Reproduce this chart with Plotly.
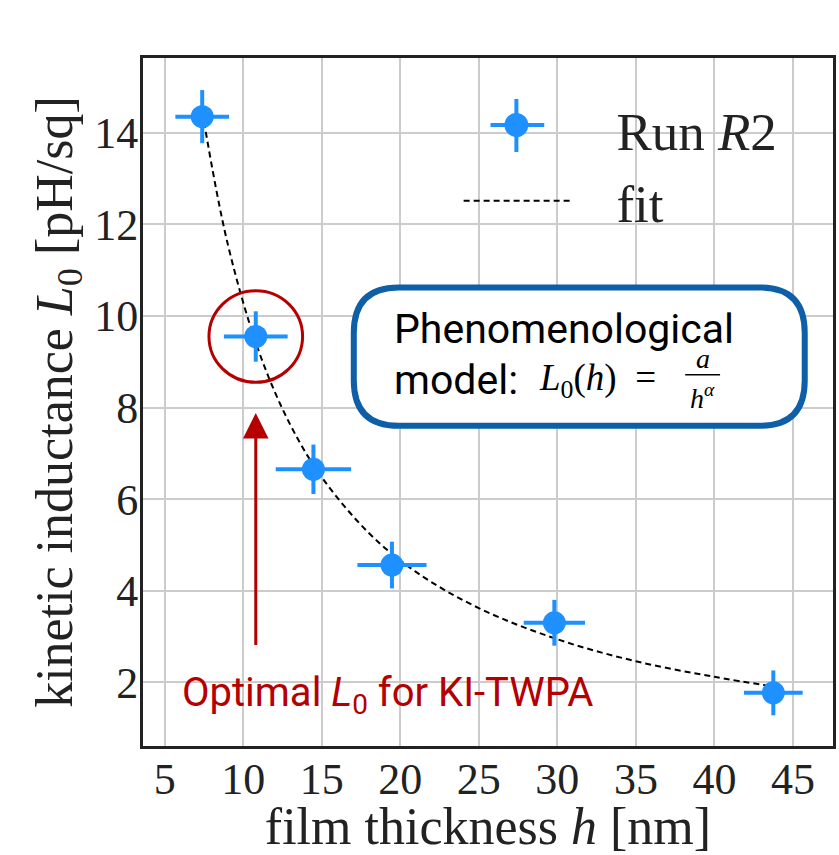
import plotly.graph_objects as go

# ---- data ----
h_nm = [7.39, 10.80, 14.47, 19.47, 29.81, 43.75]
L0 = [14.35, 9.55, 6.65, 4.56, 3.30, 1.77]
h_err = [1.71, 2.03, 2.40, 2.20, 1.95, 1.87]
L0_err = [0.58, 0.55, 0.54, 0.51, 0.50, 0.49]

fit_h = [7.4, 9.0, 11.0, 13.0, 15.0, 18.0, 21.0, 25.0, 30.0, 35.0, 40.0, 43.75]
fit_L0 = [14.45, 11.59, 9.22, 7.62, 6.48, 5.26, 4.41, 3.62, 2.94, 2.46, 2.12, 1.91]

x_ticks = [5, 10, 15, 20, 25, 30, 35, 40, 45]
y_ticks = [2, 4, 6, 8, 10, 12, 14]

BLUE = "#1e90ff"
RED = "#b40000"
BOX = "#0d5fa8"
SERIF = "Liberation Serif"
SANS = "Roboto"
NB = "\u00a0"

W, H = 839, 855
ML, MR, MT, MB = 143, 3, 58, 109


def px2paper(px, py):
    return (px - ML) / (W - ML - MR), (H - MB - py) / (H - MT - MB)


fig = go.Figure()

fig.add_trace(go.Scatter(
    x=fit_h, y=fit_L0, mode="lines", name=NB * 3 + "fit", legendrank=2,
    line=dict(color="black", width=2, dash="6px,4px", shape="spline"),
))
fig.add_trace(go.Scatter(
    x=h_nm, y=L0, mode="markers", name=NB * 3 + "Run <i>R</i>2", legendrank=1,
    marker=dict(color=BLUE, size=23),
    error_x=dict(type="data", array=h_err, color=BLUE, thickness=4, width=0),
    error_y=dict(type="data", array=L0_err, color=BLUE, thickness=4, width=0),
))

shapes = []
# rounded box
x0, x1, y0, y1 = 17.04, 45.75, 7.60, 10.62
rx, ry = 2.85, 0.99
path = (f"M{x0+rx},{y1} L{x1-rx},{y1} Q{x1},{y1} {x1},{y1-ry} "
        f"L{x1},{y0+ry} Q{x1},{y0} {x1-rx},{y0} L{x0+rx},{y0} "
        f"Q{x0},{y0} {x0},{y0+ry} L{x0},{y1-ry} Q{x0},{y1} {x0+rx},{y1} Z")
shapes.append(dict(type="path", path=path, xref="x", yref="y",
                   line=dict(color=BOX, width=6), fillcolor="white", layer="above"))
# red circle around optimal point
crx, cry = 2.98, 1.0
shapes.append(dict(type="circle", xref="x", yref="y",
                   x0=h_nm[1] - crx, x1=h_nm[1] + crx, y0=L0[1] - cry, y1=L0[1] + cry,
                   line=dict(color=RED, width=3)))
# fraction bar
shapes.append(dict(type="line", xref="x", yref="y", x0=38.14, x1=40.36, y0=8.714, y1=8.714,
                   line=dict(color="black", width=1.5), layer="above"))
# legend error cross + enlarged dot
a0, b0 = px2paper(492, 125)
a1, b1 = px2paper(546, 125)
shapes.append(dict(type="line", xref="paper", yref="paper", x0=a0, x1=a1, y0=b0, y1=b1,
                   line=dict(color=BLUE, width=4), layer="above"))
a0, b0 = px2paper(518, 99)
a1, b1 = px2paper(518, 152)
shapes.append(dict(type="line", xref="paper", yref="paper", x0=a0, x1=a1, y0=b0, y1=b1,
                   line=dict(color=BLUE, width=4), layer="above"))
a0, b0 = px2paper(506, 137)
a1, b1 = px2paper(530, 113)
shapes.append(dict(type="circle", xref="paper", yref="paper", x0=a0, x1=a1, y0=b0, y1=b1,
                   line=dict(width=0), fillcolor=BLUE, layer="above"))

annotations = [
    dict(x=19.45, y=9.72, xref="x", yref="y", text="Phenomenological", showarrow=False,
         xanchor="left", yanchor="middle", font=dict(family=SANS, size=41, color="black")),
    dict(x=19.45, y=8.60, xref="x", yref="y", text="model:", showarrow=False,
         xanchor="left", yanchor="middle", font=dict(family=SANS, size=41, color="black")),
    dict(x=28.7, y=8.60, xref="x", yref="y",
         text="<i>L</i><sub>0</sub>(<i>h</i>)" + NB * 2 + "=",
         showarrow=False, xanchor="left", yanchor="middle",
         font=dict(family=SERIF, size=37, color="black")),
    dict(x=39.3, y=9.08, xref="x", yref="y", text="<i>a</i>", showarrow=False,
         xanchor="center", yanchor="middle", font=dict(family=SERIF, size=28, color="black")),
    dict(x=39.25, y=8.25, xref="x", yref="y", text="<i>h</i><sup><i>α</i></sup>",
         showarrow=False, xanchor="center", yanchor="middle",
         font=dict(family=SERIF, size=28, color="black")),
    dict(x=h_nm[1], y=7.88, ax=h_nm[1], ay=2.78, xref="x", yref="y", axref="x", ayref="y",
         text="", showarrow=True, arrowhead=2, arrowsize=1.7, arrowwidth=3, arrowcolor=RED),
    dict(x=19.2, y=1.73, xref="x", yref="y", text="Optimal <i>L</i><sub>0</sub> for KI-TWPA",
         showarrow=False, xanchor="center", yanchor="middle",
         font=dict(family=SANS, size=40, color=RED)),
]

lx, ly = px2paper(460, 88)
fig.update_layout(
    width=W, height=H,
    margin=dict(l=ML, r=MR, t=MT, b=MB),
    paper_bgcolor="white", plot_bgcolor="white",
    font=dict(family=SERIF, color="#222222"),
    shapes=shapes, annotations=annotations,
    showlegend=True,
    legend=dict(x=lx, y=ly, xanchor="left", yanchor="top", bgcolor="rgba(0,0,0,0)",
                font=dict(family=SERIF, size=53, color="#222222"),
                itemwidth=108, tracegroupgap=0),
    xaxis=dict(range=[3.62, 47.55], tickvals=x_ticks, ticktext=[str(t) for t in x_ticks],
               showgrid=True, gridcolor="#cccccc", gridwidth=2, zeroline=False,
               showline=True, mirror=True, linecolor="#222222", linewidth=3,
               ticks="", ticklen=0, ticklabelstandoff=-8, tickfont=dict(size=44),
               title=dict(text="film thickness <i>h</i> [nm]", font=dict(size=52), standoff=4)),
    yaxis=dict(range=[0.61, 15.63], tickvals=y_ticks, ticktext=[str(t) for t in y_ticks],
               showgrid=True, gridcolor="#cccccc", gridwidth=2, zeroline=False,
               showline=True, mirror=True, linecolor="#222222", linewidth=3,
               ticks="", ticklen=0, ticklabelstandoff=-7, tickfont=dict(size=44),
               title=dict(text=NB * 2 + "kinetic inductance <i>L</i><sub>0</sub> [pH/sq]",
                          font=dict(size=52), standoff=6)),
)

fig.write_html("out.html")
